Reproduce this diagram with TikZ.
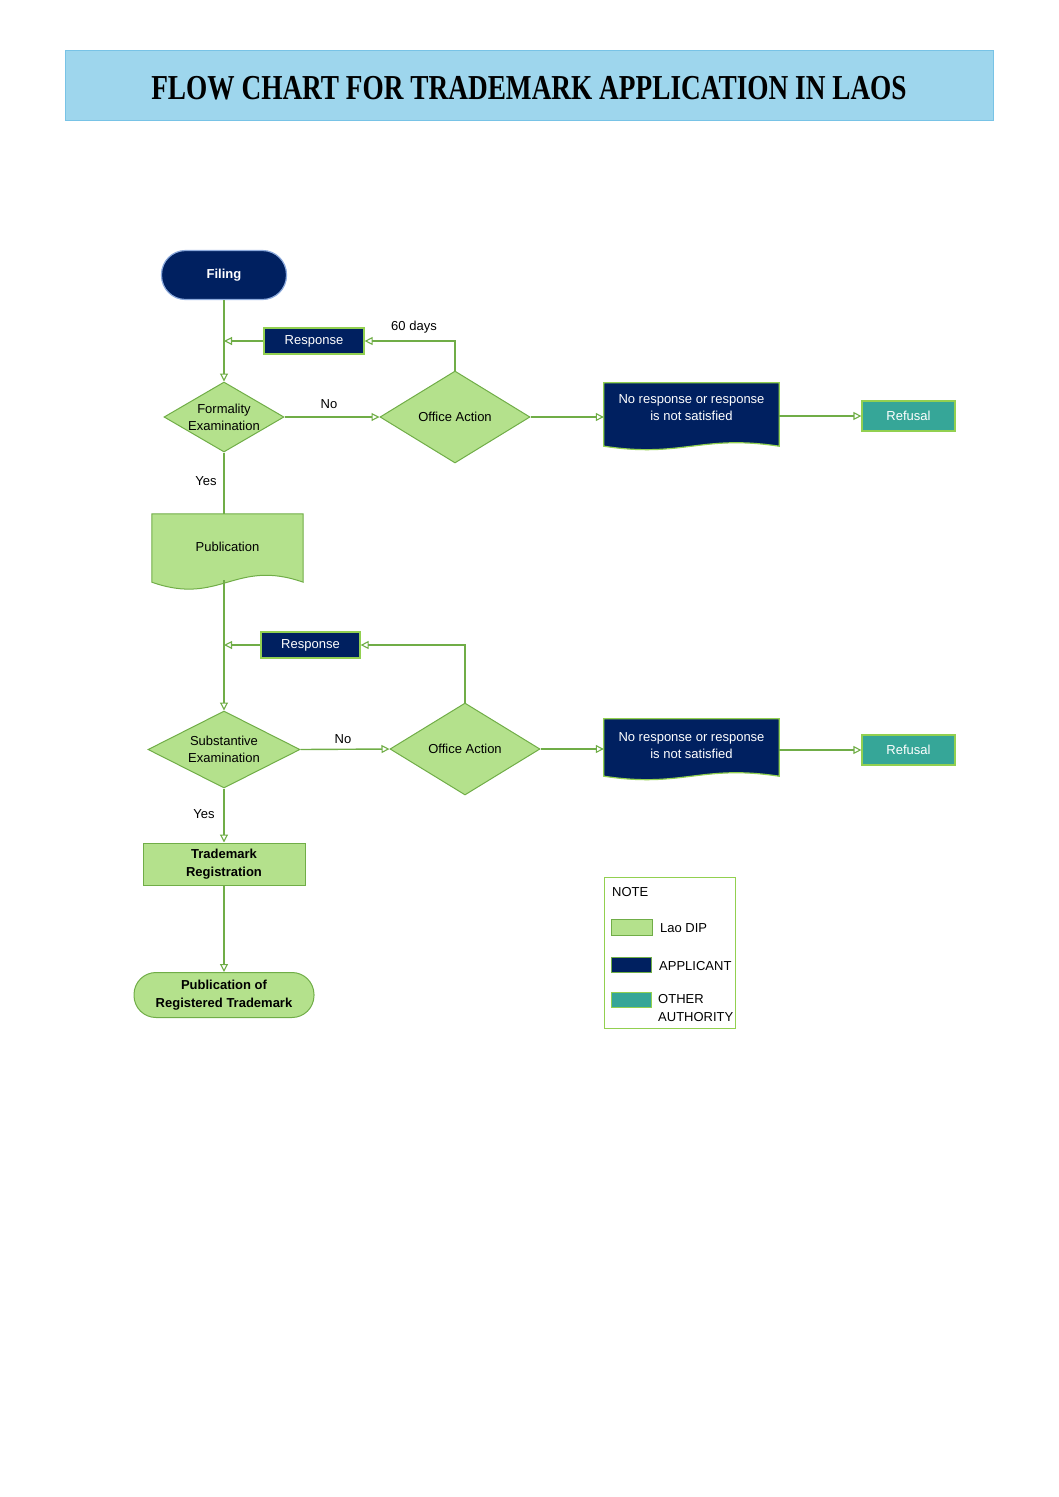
\documentclass[tikz,border=0pt]{standalone}
\usepackage{fontspec}
\setmainfont{Liberation Sans}
\newfontfamily\titlefont[FakeStretch=0.78]{Liberation Serif}
\usetikzlibrary{shapes.geometric,arrows.meta,calc,backgrounds}

\definecolor{lineg}{RGB}{112,173,71}
\definecolor{edgeg}{RGB}{146,208,80}
\definecolor{fillg}{RGB}{180,225,140}
\definecolor{navy}{RGB}{0,32,96}
\definecolor{tealbox}{RGB}{54,166,152}
\definecolor{bandfill}{RGB}{158,214,237}
\definecolor{bandedge}{RGB}{120,195,230}
\definecolor{filingedge}{RGB}{140,170,220}

% outline of a document shape round node #1 (drop, wave)
\newcommand{\docwave}[4]{%
  \begin{pgfonlayer}{background}
  \path[#4] let \p1=(#1.south west), \p2=(#1.south east) in
    (#1.north west) -- (#1.north east) -- (\x2,{\y2-#2})
    .. controls ({0.45*\x1+0.55*\x2},{\y1-#2+#3}) and ({0.55*\x1+0.45*\x2},{\y1-#2-#3}) ..
    (\x1,{\y1-#2}) -- cycle;
  \end{pgfonlayer}}

\begin{document}
\begin{tikzpicture}[x=1pt,y=-1pt,
    every node/.style={font=\fontsize{13}{17}\selectfont, align=center},
    tag/.style={inner sep=0pt},
    link/.style={draw=lineg, line width=1.4pt},
    flow/.style={link, -{Triangle[open,length=8pt,width=8pt,line width=1.1pt]}},
    dipbox/.style={draw=lineg, fill=fillg, line width=1pt},
    appbox/.style={draw=edgeg, fill=navy, text=white, line width=1.2pt},
    otherbox/.style={draw=edgeg, fill=tealbox, text=white, line width=1.2pt},
    decision/.style={dipbox, diamond, inner sep=-6pt},
    docbox/.style={rectangle, minimum width=#1, inner sep=0pt}]
  \useasboundingbox (0,0) rectangle (1058,1497);

  \node[draw=bandedge, fill=bandfill, minimum width=928pt, minimum height=70pt] (title) at (529,85) {};
  \node[tag, font=\titlefont\bfseries\fontsize{35}{40}\selectfont] (titletext) at (529,88)
    {FLOW CHART FOR TRADEMARK APPLICATION IN LAOS};

  \node[draw=filingedge, fill=navy, text=white, line width=1.2pt, rounded corners=24pt,
    minimum width=125pt, minimum height=49pt, font=\bfseries\fontsize{13}{17}\selectfont]
    (filing) at (224,275) {Filing};
  \node[appbox, minimum width=100pt, minimum height=26pt] (resp1) at (314,341) {Response};
  \node[decision, aspect=1.7, minimum width=120pt, minimum height=70pt] (form) at (224,417) {Formality\\Examination};
  \node[decision, aspect=1.6, minimum width=150pt, minimum height=92pt] (oa1) at (455,417) {Office Action};
  \node[docbox=175pt, minimum height=49pt, text=white] (doc1) at (691.5,407.5) {No response or response\\is not satisfied};
  \node[otherbox, minimum width=93pt, minimum height=30pt] (ref1) at (908.5,416) {Refusal};
  \node[docbox=151pt, minimum height=66pt] (pub) at (227.5,547) {Publication};
  \node[appbox, minimum width=99pt, minimum height=26pt] (resp2) at (310.5,645) {Response};
  \node[decision, aspect=2, minimum width=152pt, minimum height=77pt] (sub) at (224,749.5) {Substantive\\Examination};
  \node[decision, aspect=1.6, minimum width=150pt, minimum height=92pt] (oa2) at (465,749) {Office Action};
  \node[docbox=175pt, minimum height=53pt, text=white] (doc2) at (691.5,745.5) {No response or response\\is not satisfied};
  \node[otherbox, minimum width=93pt, minimum height=30pt] (ref2) at (908.5,750) {Refusal};
  \node[dipbox, minimum width=162pt, minimum height=42pt, font=\bfseries\fontsize{13}{18}\selectfont]
    (reg) at (224,864) {Trademark\\Registration};
  \node[dipbox, rounded corners=22pt, minimum width=180pt, minimum height=45pt,
    font=\bfseries\fontsize{13}{18}\selectfont] (pubreg) at (224,995) {Publication of\\Registered Trademark};

  \docwave{doc1}{14pt}{12pt}{draw=edgeg, fill=navy, line width=1.2pt}
  \docwave{pub}{2pt}{24pt}{draw=lineg, fill=fillg, line width=1pt}
  \docwave{doc2}{4pt}{12pt}{draw=edgeg, fill=navy, line width=1.2pt}

  \node[tag] (days) at (414,327) {60 days};
  \node[tag] (no1) at (329,404) {No};
  \node[tag] (yes1) at (206,481) {Yes};
  \node[tag] (no2) at (343,739) {No};
  \node[tag] (yes2) at (204,814) {Yes};

  \draw[flow] (filing.south) -- (filing.south |- form.north);
  \draw[flow] (oa1.north) |- (resp1.east);
  \draw[flow] (resp1.west) -- (resp1.west -| form.north);
  \draw[flow] (form.east) -- (oa1.west);
  \draw[flow] (oa1.east) -- (oa1.east -| doc1.west);
  \draw[flow] (doc1.east |- ref1) -- (ref1.west);
  \draw[link] (form.south) -- (form.south |- pub.north);
  \draw[flow] (pub.south -| sub.north) -- (sub.north);
  \draw[flow] (oa2.north) |- (resp2.east);
  \draw[flow] (resp2.west) -- (resp2.west -| sub.north);
  \draw[flow] (sub.east) -- (oa2.west);
  \draw[flow] (oa2.east) -- (oa2.east -| doc2.west);
  \draw[flow] (doc2.east |- ref2) -- (ref2.west);
  \draw[flow] (sub.south) -- (sub.south |- reg.north);
  \draw[flow] (reg.south) -- (pubreg.north);

  \node[draw=edgeg, line width=1pt, minimum width=131pt, minimum height=151pt] (note) at (669.5,952.5) {};
  \node[tag, anchor=west] (notehead) at (612,892) {NOTE};
  \draw[dipbox] (611,919) rectangle (652,935);
  \draw[draw=lineg, fill=navy, line width=1pt] (611,957) rectangle (651,972);
  \draw[draw=edgeg, fill=tealbox, line width=1pt] (611,992) rectangle (651,1007);
  \node[tag, anchor=west] (keydip) at (660,928) {Lao DIP};
  \node[tag, anchor=west] (keyapp) at (659,966) {APPLICANT};
  \node[tag, anchor=west, align=left, font=\fontsize{13}{18}\selectfont] (keyoth) at (658,1008) {OTHER\\AUTHORITY};
\end{tikzpicture}
\end{document}
